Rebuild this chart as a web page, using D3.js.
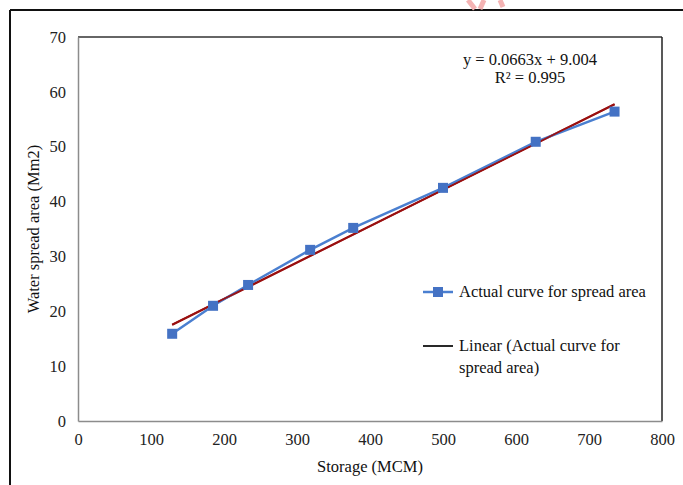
<!DOCTYPE html>
<html>
<head>
<meta charset="utf-8">
<script src="https://cdn.jsdelivr.net/npm/d3@7"></script>
<style>
  body { margin: 0; background: #fff; }
  svg { display: block; font-family: "Liberation Serif", "Times New Roman", serif; }
</style>
</head>
<body>
<svg></svg>
<script>
// data
var storage = [129, 185, 233, 318, 377, 500, 627, 735];
var spreadArea = [15.9, 21.0, 24.8, 31.2, 35.2, 42.5, 50.9, 56.4];
var xTicks = [0, 100, 200, 300, 400, 500, 600, 700, 800];
var yTicks = [0, 10, 20, 30, 40, 50, 60, 70];
// trend line from the equation in the chart
var slope = 0.0663;
var intercept = 9.004;
var equationLines = ["y = 0.0663x + 9.004", "R\u00B2 = 0.995"];
var legendLabels = ["Actual curve for spread area", "Linear (Actual curve for", "spread area)"];

var svgWidth = 683;
var svgHeight = 485;

var svg = d3.select("svg")
  .attr("width", svgWidth)
  .attr("height", svgHeight);

// outer frame (left and top only visible)
svg.append("line").attr("x1", 10).attr("y1", 10).attr("x2", 10).attr("y2", svgHeight)
  .attr("stroke", "#111").attr("stroke-width", 2);
svg.append("line").attr("x1", 10).attr("y1", 10).attr("x2", svgWidth).attr("y2", 10)
  .attr("stroke", "#111").attr("stroke-width", 2);

// faint red watermark strokes at the top
svg.append("path").attr("d", "M468,0 L475,9 M484,0 L480,9 M500,0 L503,7")
  .attr("stroke", "#f4b3b3").attr("stroke-width", 5).attr("fill", "none");

var plotL = 78, plotR = 662, plotT = 37, plotB = 421;

var x = d3.scaleLinear().domain([0, 800]).range([plotL, plotR]);
var y = d3.scaleLinear().domain([0, 70]).range([plotB, plotT]);

// plot frame
svg.append("line").attr("x1", plotL).attr("y1", plotT).attr("x2", plotR).attr("y2", plotT)
  .attr("stroke", "#333").attr("stroke-width", 1.5);
svg.append("line").attr("x1", plotR).attr("y1", plotT).attr("x2", plotR).attr("y2", plotB)
  .attr("stroke", "#222").attr("stroke-width", 1.5);

var xAxis = svg.append("g")
  .attr("transform", "translate(0," + plotB + ")")
  .call(d3.axisBottom(x).tickValues(xTicks).tickSize(0).tickPadding(12).tickFormat(d3.format("d")));
var yAxis = svg.append("g")
  .attr("transform", "translate(" + plotL + ",0)")
  .call(d3.axisLeft(y).tickValues(yTicks).tickSize(0).tickPadding(12).tickFormat(d3.format("d")));

[xAxis, yAxis].forEach(function (g) {
  g.select(".domain").attr("stroke", "#8c8c8c").attr("stroke-width", 1.5);
  g.selectAll("text")
    .attr("font-family", "Liberation Serif, Times New Roman, serif")
    .attr("font-size", "16.5px")
    .attr("fill", "#222");
});

// trend line
var xMin = d3.min(storage), xMax = d3.max(storage);
svg.append("line")
  .attr("x1", x(xMin)).attr("y1", y(slope * xMin + intercept))
  .attr("x2", x(xMax)).attr("y2", y(slope * xMax + intercept))
  .attr("stroke", "#9a1010").attr("stroke-width", 2.2);

// actual curve
var pts = storage.map(function (d, i) { return [d, spreadArea[i]]; });
var line = d3.line()
  .x(function (d) { return x(d[0]); })
  .y(function (d) { return y(d[1]); });

svg.append("path")
  .datum(pts)
  .attr("d", line)
  .attr("fill", "none")
  .attr("stroke", "#4a7fd0")
  .attr("stroke-width", 2.5);

// draw trend again on top, thinner, so red shows over blue where they cross
svg.append("line")
  .attr("x1", x(xMin)).attr("y1", y(slope * xMin + intercept))
  .attr("x2", x(xMax)).attr("y2", y(slope * xMax + intercept))
  .attr("stroke", "#9a1010").attr("stroke-width", 1.6);

svg.selectAll("rect.marker")
  .data(pts)
  .enter()
  .append("rect")
  .attr("class", "marker")
  .attr("x", function (d) { return x(d[0]) - 5; })
  .attr("y", function (d) { return y(d[1]) - 5; })
  .attr("width", 10)
  .attr("height", 10)
  .attr("fill", "#4472c4");

// equation
svg.selectAll("text.eq")
  .data(equationLines)
  .enter()
  .append("text")
  .attr("class", "eq")
  .attr("x", 530)
  .attr("y", function (d, i) { return 65 + i * 18; })
  .attr("text-anchor", "middle")
  .attr("font-size", "16.5px")
  .attr("fill", "#111")
  .text(function (d) { return d; });

// legend
var lg = svg.append("g");
lg.append("line").attr("x1", 423).attr("x2", 453).attr("y1", 292).attr("y2", 292)
  .attr("stroke", "#4a7fd0").attr("stroke-width", 2.5);
lg.append("rect").attr("x", 433).attr("y", 287).attr("width", 10).attr("height", 10).attr("fill", "#4472c4");
lg.append("line").attr("x1", 423).attr("x2", 453).attr("y1", 346).attr("y2", 346)
  .attr("stroke", "#111").attr("stroke-width", 1.8);
lg.selectAll("text")
  .data(legendLabels)
  .enter()
  .append("text")
  .attr("x", 459)
  .attr("y", function (d, i) { return [297, 351, 373][i]; })
  .attr("font-size", "16.5px")
  .attr("fill", "#111")
  .text(function (d) { return d; });

// axis titles
svg.append("text")
  .attr("x", x(400))
  .attr("y", 472)
  .attr("text-anchor", "middle")
  .attr("font-size", "16.5px")
  .attr("fill", "#111")
  .text("Storage (MCM)");

svg.append("text")
  .attr("transform", "translate(39," + y(35) + ") rotate(-90)")
  .attr("text-anchor", "middle")
  .attr("font-size", "16.5px")
  .attr("fill", "#111")
  .text("Water spread area (Mm2)");
</script>
</body>
</html>
